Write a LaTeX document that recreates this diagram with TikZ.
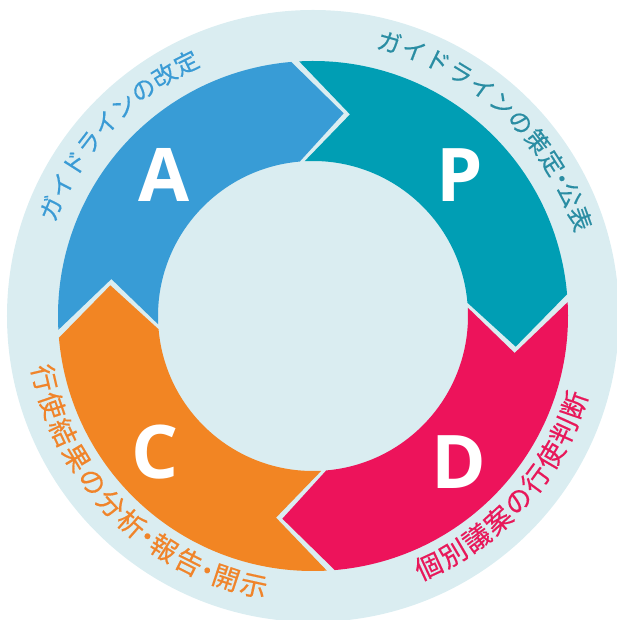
\documentclass[tikz,border=0pt]{standalone}
\usepackage{fontspec}
\newfontfamily\jpfont[FakeBold=0.4]{Noto Sans CJK JP}
\newfontfamily\letfont{Open Sans}
\definecolor{bgc}{HTML}{DAEDF1}
\definecolor{cA}{HTML}{389CD6}
\definecolor{cP}{HTML}{009EB4}
\definecolor{cD}{HTML}{ED135B}
\definecolor{cC}{HTML}{F28523}
\definecolor{tA}{HTML}{3A9BD5}
\definecolor{tP}{HTML}{2A8DA3}
\definecolor{tD}{HTML}{E8185A}
\definecolor{tC}{HTML}{F0842A}
\def\Rout{255}
\def\Rin{155}
\def\Rmid{205}
\def\Gap{0.9}
\def\Dep{13.5}
\newcommand\segfill[3]{%
  \fill[#3] ({#1-\Gap}:\Rout) arc[start angle={#1-\Gap}, end angle={#2+\Gap}, radius=\Rout]
    -- ({#2+\Gap-\Dep}:\Rmid) -- ({#2+\Gap}:\Rin)
    arc[start angle={#2+\Gap}, end angle={#1-\Gap}, radius=\Rin]
    -- ({#1-\Gap-\Dep}:\Rmid) -- cycle;}
\tikzset{
  letter/.style={text=white, inner sep=0pt, font=\letfont\bfseries\fontsize{74}{74}\selectfont},
  jpsmall/.style={inner sep=0pt, text height=0.88em, text depth=0.12em, font=\jpfont\fontsize{24}{24}\selectfont},
  jpbig/.style={inner sep=0pt, text height=0.88em, text depth=0.12em, font=\jpfont\fontsize{27}{27}\selectfont}
}
\begin{document}
\begin{tikzpicture}[x=1pt,y=1pt]
\useasboundingbox (-313,-304) rectangle (304,316);
\clip (-313,-304) rectangle (304,316);
\fill[bgc] (0,0) circle[radius=306];
% ring segments
\segfill{184}{94}{cA}
\segfill{94}{4}{cP}
\segfill{4}{-86}{cD}
\segfill{-86}{-176}{cC}
% letters
\node[letter] (lA) at (-149,141.5) {A};
\node[letter] (lP) at (147,141) {P};
\node[letter] (lD) at (146,-146.5) {D};
\node[letter] (lC) at (-158,-136) {C};
% curved labels
\foreach \c/\a [count=\i] in {ガ/157.7,イ/152.56,ド/147.42,ラ/142.28,イ/137.14,ン/132.0,の/126.86,改/121.72,定/116.58}
  \node[jpsmall, text=tA, rotate=\a-90] (ta\i) at (\a:278) {\c};
\foreach \c/\a [count=\i] in {ガ/74.4,イ/69.17,ド/63.94,ラ/58.71,イ/53.48,ン/48.25,の/43.02,策/37.79,定/32.56,・/28.9,公/25.24,表/20.0}
  \node[jpsmall, text=tP, rotate=\a-90] (tp\i) at (\a:279) {\c};
\foreach \c/\a [count=\i] in {個/294.8,別/300.6,議/306.4,案/312.2,の/318.0,行/323.8,使/329.6,判/335.4,断/341.2}
  \node[jpbig, text=tD, rotate=\a+90] (td\i) at (\a:282) {\c};
\foreach \c/\a [count=\i] in {行/193.0,使/198.98,結/204.96,果/210.94,の/216.92,分/222.9,析/228.88,・/233.07,報/237.26,告/243.24,・/247.43,開/251.62,示/257.6}
  \node[jpbig, text=tC, rotate=\a+90] (tc\i) at (\a:282) {\c};
\end{tikzpicture}
\end{document}
